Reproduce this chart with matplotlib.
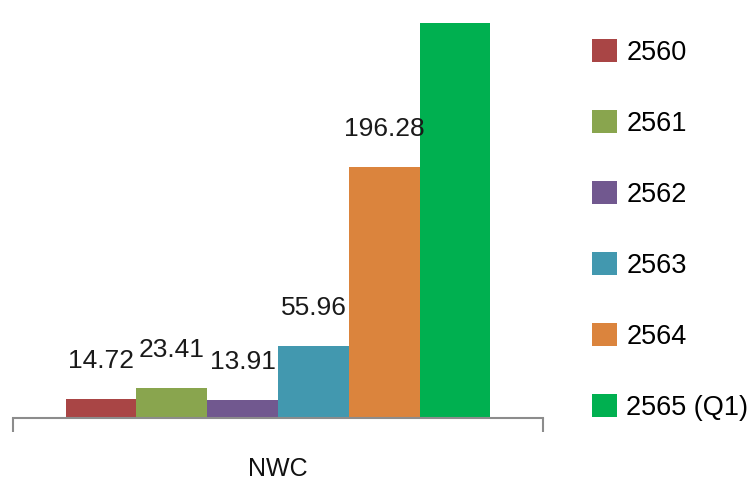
import matplotlib.pyplot as plt
from matplotlib.patches import Patch

plt.rcParams['font.family'] = ['Liberation Sans', 'DejaVu Sans']

# ข้อมูล NWC แยกตามปี
category = 'NWC'
years = ['2560', '2561', '2562', '2563', '2564', '2565 (Q1)']
values = [14.72, 23.41, 13.91, 55.96, 196.28, 309.0]
shown_labels = ['14.72', '23.41', '13.91', '55.96', '196.28', '']
colors = ['#a94545', '#89a54e', '#71588f', '#4298af', '#db843d', '#00b050']

fig = plt.figure(figsize=(7.51, 4.87), dpi=100)
ax = fig.add_axes([13 / 751, 69 / 487, 530 / 751, 418 / 487])

width = 0.1336
handles = []
for i, (y, v, lab, c) in enumerate(zip(years, values, shown_labels, colors)):
    x = (i - 2.5) * width
    ax.bar(x, v, width=width, color=c, edgecolor='none')
    if lab:
        ax.annotate(lab, xy=(x, v), xytext=(0, 19), textcoords='offset points',
                    ha='center', va='bottom', fontsize=19, color='#1a1a1a')
    handles.append(Patch(facecolor=c, label=y))

ax.set_xlim(-0.5, 0.5)
ax.set_ylim(0, 326.9)
for s in ['top', 'right', 'left']:
    ax.spines[s].set_visible(False)
ax.spines['bottom'].set_color('#8c8c8c')
ax.spines['bottom'].set_linewidth(1.5)
ax.set_yticks([])
ax.set_xticks([-0.5, 0.5])
ax.set_xticklabels(['', ''])
ax.tick_params(axis='x', length=10, width=1.5, color='#8c8c8c', direction='out')

# ชื่อหมวดใต้แกน
ax.annotate(category, xy=(0, 0), xycoords='data', xytext=(0, -37),
            textcoords='offset points', ha='center', va='center',
            fontsize=18, color='#111111')

fig.legend(handles=handles, loc='upper left', bbox_to_anchor=(581 / 751, 1 - 28.5 / 487),
           frameon=False, fontsize=19.5, handlelength=0.92, handleheight=0.92,
           handletextpad=0.35, labelspacing=1.635, borderaxespad=0)

plt.savefig('out.png', dpi=100)
